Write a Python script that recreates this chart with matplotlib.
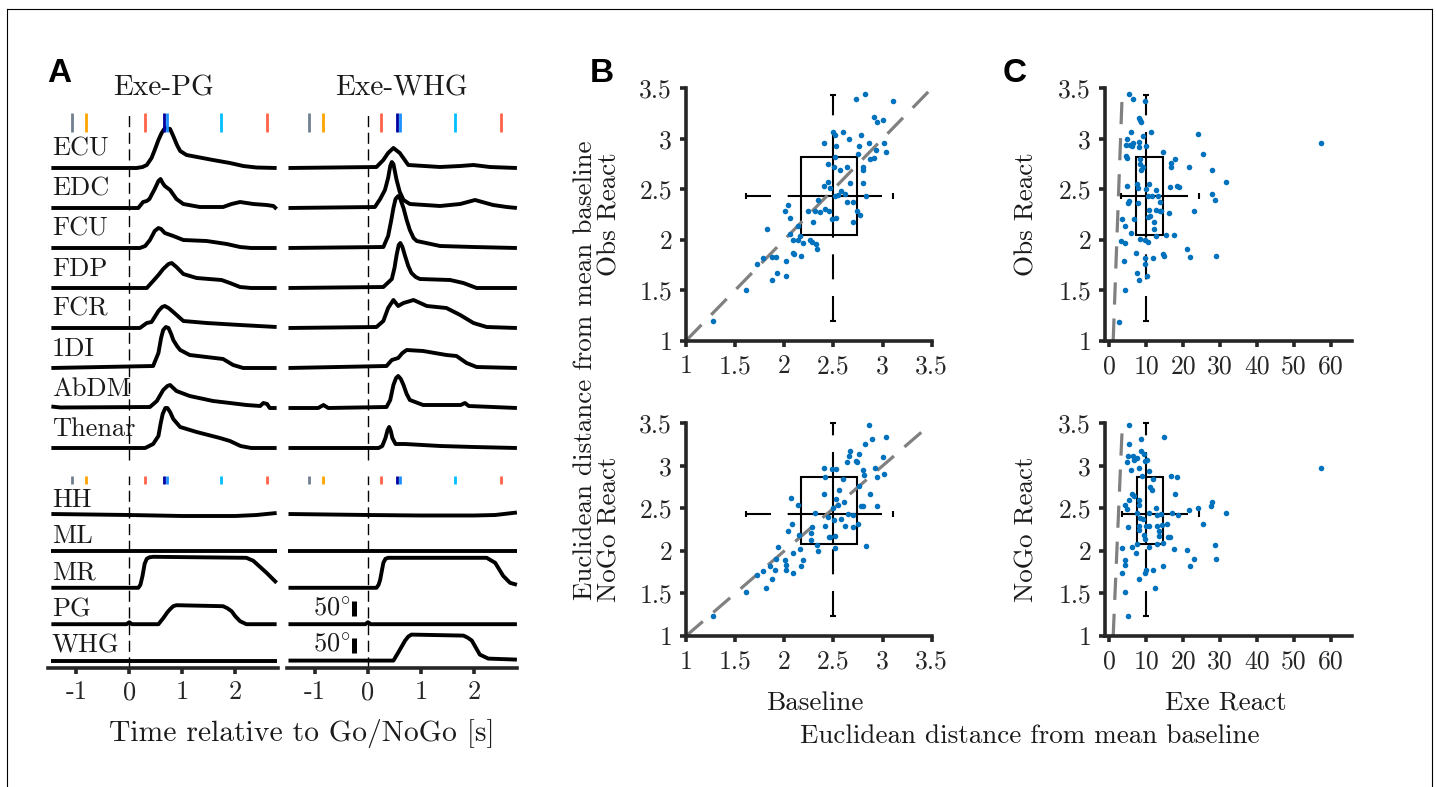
import matplotlib
matplotlib.use("Agg")
import matplotlib.pyplot as plt
from matplotlib.lines import Line2D
from matplotlib.patches import Rectangle

plt.rcParams['font.family'] = ['cmr10', 'DejaVu Serif']
plt.rcParams['mathtext.fontset'] = 'cm'
plt.rcParams['axes.unicode_minus'] = False
plt.rcParams['lines.scale_dashes'] = False

# ---------------- Panel A data: (time [s], amplitude) ----------------
MUSCLES = ["ECU", "EDC", "FCU", "FDP", "FCR", "1DI", "AbDM", "Thenar"]
JOINTS = ["HH", "ML", "MR", "PG", "WHG"]

ECU_PG = [(-1.47, 0), (0.14, 0), (0.25, 1), (0.33, 3), (0.42, 10), (0.48, 18), (0.55, 28), (0.61, 35), (0.66, 39), (0.70, 40), (0.77, 39), (0.83, 32), (0.9, 23), (0.96, 17), (1.08, 13), (1.58, 8), (1.9, 5), (2.15, 2), (2.4, 0.5), (2.78, 0)]
EDC_PG = [(-1.47, 0), (0.17, 0), (0.26, 6), (0.33, 7), (0.38, 9), (0.48, 19), (0.55, 27), (0.59, 29), (0.63, 25), (0.67, 22), (0.77, 18), (0.89, 9), (1.02, 4), (1.33, 1), (1.77, 1), (1.93, 4), (2.09, 6), (2.34, 4), (2.59, 3), (2.72, 2), (2.78, -1)]
FCU_PG = [(-1.47, 0), (0.2, 0), (0.3, 2), (0.39, 8), (0.48, 17), (0.55, 20), (0.6, 19), (0.67, 15), (0.83, 12), (1.02, 8), (1.46, 7), (1.84, 4), (2.09, 1), (2.3, 0), (2.78, 0)]
FDP_PG = [(-1.47, 0), (0.33, 0), (0.45, 7), (0.55, 13), (0.64, 19), (0.74, 24), (0.8, 25), (0.89, 21), (1.02, 14), (1.27, 10), (1.74, 8), (1.9, 5), (2.09, 1), (2.3, 0), (2.78, 0)]
FCR_PG = [(-1.47, 0), (0.2, 0), (0.33, 5), (0.42, 6), (0.55, 17), (0.62, 21), (0.67, 22), (0.74, 20), (0.83, 16), (1.02, 7), (1.46, 5), (2.09, 3), (2.78, 1)]
DI1_PG = [(-1.47, 0), (0.45, 2), (0.55, 15), (0.6, 30), (0.64, 38), (0.69, 41), (0.74, 40), (0.79, 34), (0.83, 28), (0.9, 22), (0.96, 18), (1.14, 13), (1.77, 9), (1.96, 3), (2.15, 0), (2.78, 0)]
ABDM_PG = [(-1.47, 1.5), (-1.3, 0.5), (0.39, 1), (0.52, 7), (0.64, 18), (0.72, 22), (0.77, 23), (0.89, 17), (1.14, 12), (1.58, 7), (1.9, 5), (2.21, 3), (2.47, 2), (2.53, 5), (2.6, 4), (2.65, 0), (2.78, 0)]
THENAR_PG = [(-1.47, 0), (0.3, 0), (0.45, 4), (0.55, 12), (0.59, 24), (0.63, 34), (0.68, 40), (0.72, 40), (0.77, 36), (0.83, 29), (0.96, 21), (1.27, 16), (1.71, 10), (1.9, 7), (2.1, 2), (2.3, 0), (2.78, 0)]

ECU_WHG = [(-1.5, 0), (0.16, 1), (0.29, 8), (0.38, 15), (0.48, 20), (0.6, 15), (0.76, 3), (1.36, 1), (1.74, 2), (1.99, 3), (2.3, 1), (2.81, 0)]
EDC_WHG = [(-1.5, 0), (0.13, 1), (0.23, 9), (0.32, 18), (0.38, 30), (0.42, 42), (0.45, 46), (0.48, 44), (0.51, 36), (0.54, 28), (0.6, 16), (0.67, 8), (0.79, 4), (1.36, 2), (1.74, 4), (2.02, 8), (2.36, 3), (2.62, 1), (2.81, 0)]
FCU_WHG = [(-1.5, 0), (0.29, 1), (0.38, 12), (0.44, 28), (0.48, 40), (0.52, 49), (0.57, 52), (0.61, 49), (0.67, 40), (0.73, 28), (0.79, 18), (0.86, 10), (0.92, 7), (1.36, 2), (1.99, 1), (2.81, 0)]
FDP_WHG = [(-1.5, 0), (0.29, 1), (0.45, 9), (0.5, 20), (0.54, 33), (0.58, 43), (0.61, 45), (0.65, 41), (0.7, 32), (0.76, 22), (0.82, 15), (0.9, 11), (0.98, 9), (1.55, 8), (1.8, 5), (2.05, 0), (2.81, 0)]
FCR_WHG = [(-1.5, 0), (0.16, 1), (0.29, 7), (0.38, 20), (0.48, 28), (0.57, 22), (0.67, 25), (0.86, 28), (1.11, 22), (1.48, 20), (1.74, 13), (1.99, 5), (2.24, 1), (2.81, 0)]
DI1_WHG = [(-1.5, 0), (0.35, 2), (0.45, 8), (0.57, 10), (0.65, 15), (0.73, 18), (1.04, 17), (1.48, 13), (1.67, 12), (1.86, 5), (2.05, 1), (2.81, 0)]
ABDM_WHG = [(-1.5, 0), (-0.94, 0), (-0.84, 3), (-0.75, 0), (0.35, 1), (0.42, 8), (0.48, 23), (0.53, 30), (0.57, 32), (0.62, 29), (0.67, 23), (0.73, 14), (0.79, 8), (1.04, 3), (1.75, 3), (1.83, 5), (1.9, 2), (2.81, 0)]
THENAR_WHG = [(-1.5, 0), (0.2, 0), (0.27, 2), (0.33, 10), (0.37, 18), (0.4, 21), (0.43, 17), (0.46, 10), (0.52, 4), (0.7, 4), (1.36, 2), (2.0, 1), (2.81, 0)]

HH_PG = [(-1.47, 1), (0, 0), (1.0, -1), (2.0, -1), (2.4, 0), (2.78, 2)]
ML_PG = [(-1.47, 0), (2.78, 0)]
MR_PG = [(-1.47, 0), (0.17, 0), (0.21, 3), (0.25, 12), (0.29, 24), (0.33, 29), (0.38, 30.5), (0.45, 31), (2.21, 30), (2.34, 27), (2.59, 15), (2.78, 5)]
PG_PG = [(-1.47, 0), (-0.05, 0), (0, 2), (0.05, 0), (0.55, 0), (0.64, 6), (0.72, 12), (0.77, 15), (0.83, 18), (0.89, 19), (1.77, 18), (1.85, 16), (1.93, 13), (2.0, 8), (2.09, 3), (2.21, 0), (2.78, 0)]
WHG_PG = [(-1.47, 0), (2.78, 0)]

HH_WHG = [(-1.5, 1), (0, 0), (1.0, -0.5), (2.0, -0.5), (2.4, 0), (2.81, 2.5)]
ML_WHG = [(-1.5, 0), (2.81, 0)]
MR_WHG = [(-1.5, 0), (0.16, 0), (0.2, 3), (0.23, 8), (0.29, 25), (0.33, 29), (0.38, 30), (2.24, 30), (2.4, 25), (2.55, 12), (2.68, 5), (2.81, 3)]
PG_WHG = [(-1.5, 0), (-0.05, 0), (0, 2), (0.05, 0), (2.81, 0)]
WHG_WHG = [(-1.5, 0), (0.48, 0), (0.57, 8), (0.7, 20), (0.76, 24), (0.82, 26), (1.8, 25), (1.88, 23), (1.96, 20), (2.11, 6), (2.27, 2), (2.81, 1)]

EVENTS_PG = [-1.09, -0.82, 0.30, 0.655, 0.71, 1.74, 2.59]
EVENTS_WHG = [-1.11, -0.84, 0.25, 0.55, 0.60, 1.64, 2.51]
EVENT_COLORS = ['#708090', '#FFA500', '#FF6347', '#0000A0', '#1E90FF', '#00BFFF', '#FF6347']
TIME_TICKS = [-1, 0, 1, 2]

# ---------------- Panel B / C data ----------------
B_TOP_X = [1.27, 1.61, 1.72, 1.78, 1.82, 1.87, 1.87, 1.92, 1.93, 2.01, 2.02, 2.02, 2.04, 2.06, 2.06, 2.09, 2.09, 2.10, 2.14, 2.14, 2.16, 2.17, 2.19, 2.24, 2.26, 2.28, 2.29, 2.31, 2.32, 2.33, 2.34, 2.40, 2.40, 2.41, 2.44, 2.44, 2.45, 2.47, 2.49, 2.50, 2.51, 2.52, 2.52, 2.53, 2.52, 2.53, 2.57, 2.60, 2.58, 2.62, 2.64, 2.64, 2.66, 2.67, 2.70, 2.70, 2.73, 2.74, 2.75, 2.76, 2.77, 2.78, 2.80, 2.80, 2.80, 2.82, 2.83, 2.86, 2.87, 2.91, 2.91, 2.93, 2.94, 3.00, 3.01, 3.03, 3.11, 2.55, 2.36]
B_TOP_Y = [1.20, 1.50, 1.76, 1.82, 2.11, 1.60, 1.83, 1.83, 1.67, 2.28, 1.79, 1.64, 2.34, 2.22, 2.06, 1.87, 2.00, 1.86, 2.14, 2.00, 2.04, 1.84, 1.97, 2.28, 2.00, 1.98, 2.18, 2.28, 1.96, 1.91, 2.39, 2.96, 2.53, 2.30, 2.57, 2.75, 2.28, 2.51, 2.21, 3.07, 2.72, 3.04, 2.43, 2.22, 2.82, 2.93, 2.69, 3.07, 2.48, 2.45, 2.37, 2.72, 3.00, 2.56, 2.18, 2.37, 3.39, 2.28, 2.85, 2.93, 2.25, 3.04, 2.69, 2.72, 2.56, 3.44, 2.43, 2.96, 2.80, 2.81, 3.22, 2.89, 3.17, 3.19, 2.96, 2.87, 3.37, 2.44, 2.27]

B_BOT_X = [1.27, 1.61, 1.72, 1.78, 1.81, 1.85, 1.88, 1.91, 1.92, 1.94, 2.01, 2.02, 2.02, 2.04, 2.07, 2.08, 2.09, 2.09, 2.14, 2.15, 2.16, 2.17, 2.19, 2.27, 2.28, 2.27, 2.31, 2.33, 2.34, 2.40, 2.41, 2.40, 2.41, 2.44, 2.45, 2.47, 2.49, 2.50, 2.51, 2.52, 2.52, 2.53, 2.53, 2.55, 2.56, 2.58, 2.60, 2.61, 2.62, 2.64, 2.65, 2.66, 2.67, 2.70, 2.70, 2.73, 2.74, 2.75, 2.76, 2.76, 2.78, 2.80, 2.80, 2.81, 2.82, 2.83, 2.86, 2.87, 2.89, 2.92, 2.94, 2.94, 3.00, 3.01, 3.03]
B_BOT_Y = [1.24, 1.52, 1.72, 1.76, 1.56, 1.82, 1.67, 1.78, 1.90, 2.05, 1.89, 1.83, 1.78, 2.23, 2.62, 2.32, 1.98, 1.74, 2.54, 2.19, 2.02, 1.82, 1.89, 2.21, 2.28, 2.13, 2.45, 2.07, 2.00, 2.97, 2.87, 2.67, 2.29, 2.40, 2.16, 2.16, 2.96, 2.50, 2.36, 2.17, 2.03, 2.96, 2.61, 2.54, 2.72, 2.37, 2.84, 2.58, 2.29, 3.05, 2.43, 3.11, 3.17, 2.28, 2.42, 3.06, 3.04, 2.32, 3.14, 2.76, 2.53, 2.95, 2.53, 2.89, 3.26, 2.06, 3.48, 2.67, 3.32, 2.97, 2.87, 2.53, 3.10, 2.90, 3.34]

C_TOP_X = [2.5, 4.1, 3.9, 3.4, 4.1, 3.2, 4.1, 4.7, 4.5, 4.7, 4.5, 4.8, 5.3, 5.0, 5.4, 5.6, 5.9, 6.2, 5.9, 6.3, 6.5, 6.6, 7.1, 7.4, 7.4, 7.7, 7.7, 7.9, 8.0, 8.0, 8.2, 8.0, 8.2, 8.3, 8.3, 8.6, 8.6, 9.2, 9.2, 9.5, 9.5, 9.7, 9.7, 10.0, 10.0, 10.2, 10.4, 10.4, 10.4, 10.7, 10.7, 11.1, 11.3, 11.6, 11.8, 12.2, 12.2, 12.5, 12.7, 12.7, 13.1, 13.6, 13.8, 14.1, 14.5, 14.5, 14.7, 15.4, 16.1, 16.5, 16.8, 16.8, 17.4, 17.7, 18.3, 18.9, 21.0, 21.6, 21.8, 22.8, 24.0, 25.4, 27.7, 27.9, 28.6, 28.8, 31.5, 57.3]
C_TOP_Y = [1.19, 1.50, 1.79, 2.21, 2.14, 1.99, 1.97, 2.53, 2.83, 2.81, 2.94, 3.00, 3.44, 2.36, 2.38, 2.94, 3.07, 2.93, 2.07, 2.96, 3.39, 2.21, 1.87, 1.67, 2.55, 2.36, 2.51, 1.60, 2.92, 2.97, 2.01, 3.21, 2.80, 2.75, 3.19, 3.17, 2.69, 3.03, 2.72, 2.00, 3.37, 1.82, 1.76, 2.50, 2.93, 1.64, 1.98, 2.23, 2.43, 2.55, 2.29, 2.24, 3.07, 2.43, 1.82, 2.18, 2.11, 2.49, 2.29, 2.04, 2.43, 2.28, 2.37, 2.28, 2.87, 1.86, 1.84, 2.05, 2.26, 2.52, 2.76, 2.72, 2.05, 2.80, 2.53, 2.52, 1.91, 2.72, 1.83, 2.28, 3.05, 2.85, 2.69, 2.45, 2.39, 1.84, 2.57, 2.96]

C_BOT_X = [5.1, 4.2, 3.3, 4.1, 4.2, 3.5, 6.1, 7.1, 7.4, 8.1, 5.1, 4.2, 4.7, 5.2, 6.1, 6.7, 7.4, 7.9, 8.1, 8.1, 8.3, 7.9, 9.0, 9.4, 9.7, 9.9, 9.7, 10.0, 10.8, 10.6, 10.6, 10.8, 11.0, 11.5, 11.7, 11.9, 12.4, 12.6, 12.8, 13.0, 13.0, 13.3, 13.3, 13.9, 14.2, 14.6, 14.6, 14.8, 15.5, 16.0, 16.4, 16.6, 16.9, 17.5, 17.8, 18.4, 18.7, 21.1, 21.7, 21.9, 22.9, 24.1, 25.5, 27.5, 27.7, 28.6, 28.9, 31.6, 57.3, 5.4, 5.4, 4.7, 5.0, 5.8, 6.3, 6.7, 7.4, 8.1, 8.5, 8.5, 8.8, 9.4, 9.7, 10.1]
C_BOT_Y = [1.24, 1.52, 1.74, 1.83, 1.89, 2.03, 2.05, 1.98, 2.08, 1.67, 2.28, 2.54, 2.49, 2.60, 2.67, 2.64, 2.45, 2.60, 2.54, 2.29, 2.39, 2.25, 2.37, 2.19, 2.14, 2.29, 1.74, 1.78, 2.29, 2.45, 2.05, 2.94, 2.75, 2.72, 1.78, 2.85, 1.56, 2.50, 2.42, 2.29, 2.08, 2.17, 2.23, 2.43, 2.30, 1.82, 2.09, 3.34, 2.32, 2.16, 2.16, 2.88, 2.45, 2.02, 2.67, 2.87, 2.42, 2.01, 2.48, 1.82, 1.90, 2.51, 2.32, 2.53, 2.57, 2.07, 1.90, 2.45, 2.97, 3.48, 3.26, 3.04, 3.12, 2.95, 3.11, 3.07, 3.09, 2.97, 3.32, 3.18, 2.88, 3.14, 3.06, 3.07]

# box-cross summaries: [whisker low, q1, median, q3, whisker high]
B_TOP_BOX_X = [1.61, 2.17, 2.50, 2.74, 3.11]
B_TOP_BOX_Y = [1.20, 2.05, 2.43, 2.82, 3.43]
B_BOT_BOX_X = [1.61, 2.17, 2.50, 2.74, 3.11]
B_BOT_BOX_Y = [1.24, 2.08, 2.43, 2.87, 3.50]
C_TOP_BOX_X = [3.0, 7.3, 9.8, 14.4, 24.2]
C_TOP_BOX_Y = [1.20, 2.05, 2.43, 2.82, 3.43]
C_BOT_BOX_X = [3.3, 7.4, 9.9, 14.5, 24.3]
C_BOT_BOX_Y = [1.24, 2.08, 2.43, 2.87, 3.50]

B_TICKS = [1, 1.5, 2, 2.5, 3, 3.5]
B_TICK_LABELS = ['1', '1.5', '2', '2.5', '3', '3.5']
C_XTICKS = [0, 10, 20, 30, 40, 50, 60]

# ---------------- layout ----------------
W, H = 1436, 787
fig = plt.figure(figsize=(W / 100, H / 100), dpi=100)
fig.patch.set_facecolor('white')


def pbox(l, t, r, b):
    return [l / W, 1 - b / H, (r - l) / W, (b - t) / H]


AX_COL = '#262626'
TRACE_LW = 2.8

# frame
for xs, ys in [([7, 7], [9, 787]), ([7, 1432], [9, 9]), ([1432, 1432], [9, 787])]:
    fig.add_artist(Line2D([x / W for x in xs], [1 - y / H for y in ys], color='black', lw=0.8))

TOP_BASE = [500 - 40 * i for i in range(8)]
BOT_BASE = [153 - 36.4 * i for i in range(5)]

columns = [
    (pbox(48.2, 100, 278.2, 668), 'Exe-PG',
     [ECU_PG, EDC_PG, FCU_PG, FDP_PG, FCR_PG, DI1_PG, ABDM_PG, THENAR_PG],
     [HH_PG, ML_PG, MR_PG, PG_PG, WHG_PG], EVENTS_PG, True),
    (pbox(286.9, 100, 516.9, 668), 'Exe-WHG',
     [ECU_WHG, EDC_WHG, FCU_WHG, FDP_WHG, FCR_WHG, DI1_WHG, ABDM_WHG, THENAR_WHG],
     [HH_WHG, ML_WHG, MR_WHG, PG_WHG, WHG_WHG], EVENTS_WHG, False),
]

for rect, title, emg, kin, events, show_names in columns:
    ax = fig.add_axes(rect)
    ax.set_xlim(-1.53, 2.81)
    ax.set_ylim(0, 568)
    for s in ['top', 'right', 'left']:
        ax.spines[s].set_visible(False)
    ax.spines['bottom'].set_linewidth(2.6)
    ax.spines['bottom'].set_color(AX_COL)
    ax.set_yticks([])
    ax.set_xticks(TIME_TICKS)
    ax.set_xticklabels([str(v) for v in TIME_TICKS])
    ax.tick_params(axis='x', direction='out', length=4, width=2.6, color=AX_COL,
                   labelsize=19, labelcolor=AX_COL, pad=5)
    ax.patch.set_alpha(0)

    # zero lines
    ax.plot([0, 0], [208, 555], color='black', lw=1.0, dashes=(8, 4))
    ax.plot([0, 0], [0, 192], color='black', lw=1.0, dashes=(8, 4))

    for trace, base in zip(emg, TOP_BASE):
        ax.plot([p[0] for p in trace], [base + p[1] for p in trace], color='black',
                lw=TRACE_LW, solid_joinstyle='round', solid_capstyle='butt', clip_on=False)
    for trace, base in zip(kin, BOT_BASE):
        ax.plot([p[0] for p in trace], [base + p[1] for p in trace], color='black',
                lw=TRACE_LW, solid_joinstyle='round', solid_capstyle='butt', clip_on=False)

    ax.vlines(events, 536, 555, colors=EVENT_COLORS, lw=2.0)
    ax.vlines(events, 184, 192, colors=EVENT_COLORS, lw=2.0)

    ax.text(0.64, 573, title, ha='center', va='baseline', fontsize=21, color='#1a1a1a', clip_on=False)

    if show_names:
        for name, base in zip(MUSCLES, TOP_BASE):
            ax.text(-1.46, base + 12, name, ha='left', va='baseline', fontsize=19, color='#1a1a1a')
        for name, base in zip(JOINTS, BOT_BASE):
            ax.text(-1.46, base + 8, name, ha='left', va='baseline', fontsize=19, color='#1a1a1a')
    else:
        for base in (BOT_BASE[3], BOT_BASE[4]):
            ax.plot([-0.26, -0.26], [base + 8, base + 23], color='black', lw=3.6, solid_capstyle='butt')
            ax.text(-0.33, base + 9, r'50$^{\circ}$', ha='right', va='baseline', fontsize=19, color='#1a1a1a')

fig.text(302 / W, 1 - 741 / H, 'Time relative to Go/NoGo [s]', ha='center', va='baseline',
         fontsize=21.3, color='#1a1a1a')


# ---------------- Panels B and C ----------------
def box_cross(ax, bx, by):
    kw = dict(color='black', lw=1.5, clip_on=False)
    ax.add_patch(Rectangle((bx[1], by[1]), bx[3] - bx[1], by[3] - by[1], fill=False,
                           ec='black', lw=1.5, clip_on=False))
    ax.plot([bx[2], bx[2]], [by[1], by[3]], **kw)
    ax.plot([bx[1], bx[3]], [by[2], by[2]], **kw)
    dash = (18, 12)
    ax.plot([bx[2], bx[2]], [by[0], by[1]], dashes=dash, **kw)
    ax.plot([bx[2], bx[2]], [by[3], by[4]], dashes=dash, **kw)
    ax.plot([bx[0], bx[1]], [by[2], by[2]], dashes=dash, **kw)
    ax.plot([bx[3], bx[4]], [by[2], by[2]], dashes=dash, **kw)
    ax.plot([bx[2], bx[2]], [by[0], by[4]], ls='none', marker='_', ms=5, mew=1.5, color='black', clip_on=False)
    ax.plot([bx[0], bx[4]], [by[2], by[2]], ls='none', marker='|', ms=5, mew=1.5, color='black', clip_on=False)


def style_axes(ax, xlim, xticks, xticklabels):
    ax.set_xlim(*xlim)
    ax.set_ylim(1, 3.5)
    for s in ['top', 'right']:
        ax.spines[s].set_visible(False)
    for s in ['left', 'bottom']:
        ax.spines[s].set_linewidth(2.6)
        ax.spines[s].set_color(AX_COL)
    ax.set_xticks(xticks)
    ax.set_xticklabels(xticklabels)
    ax.set_yticks(B_TICKS)
    ax.set_yticklabels(B_TICK_LABELS)
    ax.tick_params(direction='out', length=4, width=2.6, color=AX_COL, labelsize=18.5,
                   labelcolor=AX_COL, pad=6)
    ax.patch.set_alpha(0)


panels = [
    (pbox(686, 88.3, 931.7, 340.7), (1, 3.5), B_TICKS, B_TICK_LABELS, B_TOP_X, B_TOP_Y, B_TOP_BOX_X, B_TOP_BOX_Y),
    (pbox(686, 423.3, 931.7, 636), (1, 3.5), B_TICKS, B_TICK_LABELS, B_BOT_X, B_BOT_Y, B_BOT_BOX_X, B_BOT_BOX_Y),
    (pbox(1105, 88.3, 1352, 340.7), (-1.22, 65.8), C_XTICKS, [str(v) for v in C_XTICKS], C_TOP_X, C_TOP_Y, C_TOP_BOX_X, C_TOP_BOX_Y),
    (pbox(1105, 423.3, 1352, 636), (-1.22, 65.8), C_XTICKS, [str(v) for v in C_XTICKS], C_BOT_X, C_BOT_Y, C_BOT_BOX_X, C_BOT_BOX_Y),
]

for rect, xlim, xt, xtl, xs, ys, bx, by in panels:
    ax = fig.add_axes(rect)
    style_axes(ax, xlim, xt, xtl)
    box_cross(ax, bx, by)
    ax.plot([1, 3.5], [1, 3.5], color='#808080', lw=2.3, dashes=(16, 10), clip_on=False)
    ax.scatter(xs, ys, s=16, color='#0072BD', linewidths=0, zorder=5, clip_on=False)

lab = dict(fontsize=19.5, color='#1a1a1a', ha='center', va='center')
fig.text(610 / W, 1 - 214.5 / H, 'Obs React', rotation=90, **lab)
fig.text(610 / W, 1 - 529.7 / H, 'NoGo React', rotation=90, **lab)
fig.text(585 / W, 1 - 370 / H, 'Euclidean distance from mean baseline', rotation=90, **lab)
fig.text(1027 / W, 1 - 214.5 / H, 'Obs React', rotation=90, **lab)
fig.text(1027 / W, 1 - 529.7 / H, 'NoGo React', rotation=90, **lab)
fig.text(815 / W, 1 - 703 / H, 'Baseline', **lab)
fig.text(1226 / W, 1 - 703 / H, 'Exe React', **lab)
fig.text(1030 / W, 1 - 736 / H, 'Euclidean distance from mean baseline', **lab)

letter = dict(fontsize=24, fontweight='bold', family=['Liberation Sans', 'DejaVu Sans'],
              ha='left', va='baseline', color='black')
fig.text(47 / W, 1 - 82 / H, 'A', **letter)
fig.text(590 / W, 1 - 82 / H, 'B', **letter)
fig.text(1003 / W, 1 - 82 / H, 'C', **letter)

fig.savefig('out.png', dpi=100, facecolor='white')
